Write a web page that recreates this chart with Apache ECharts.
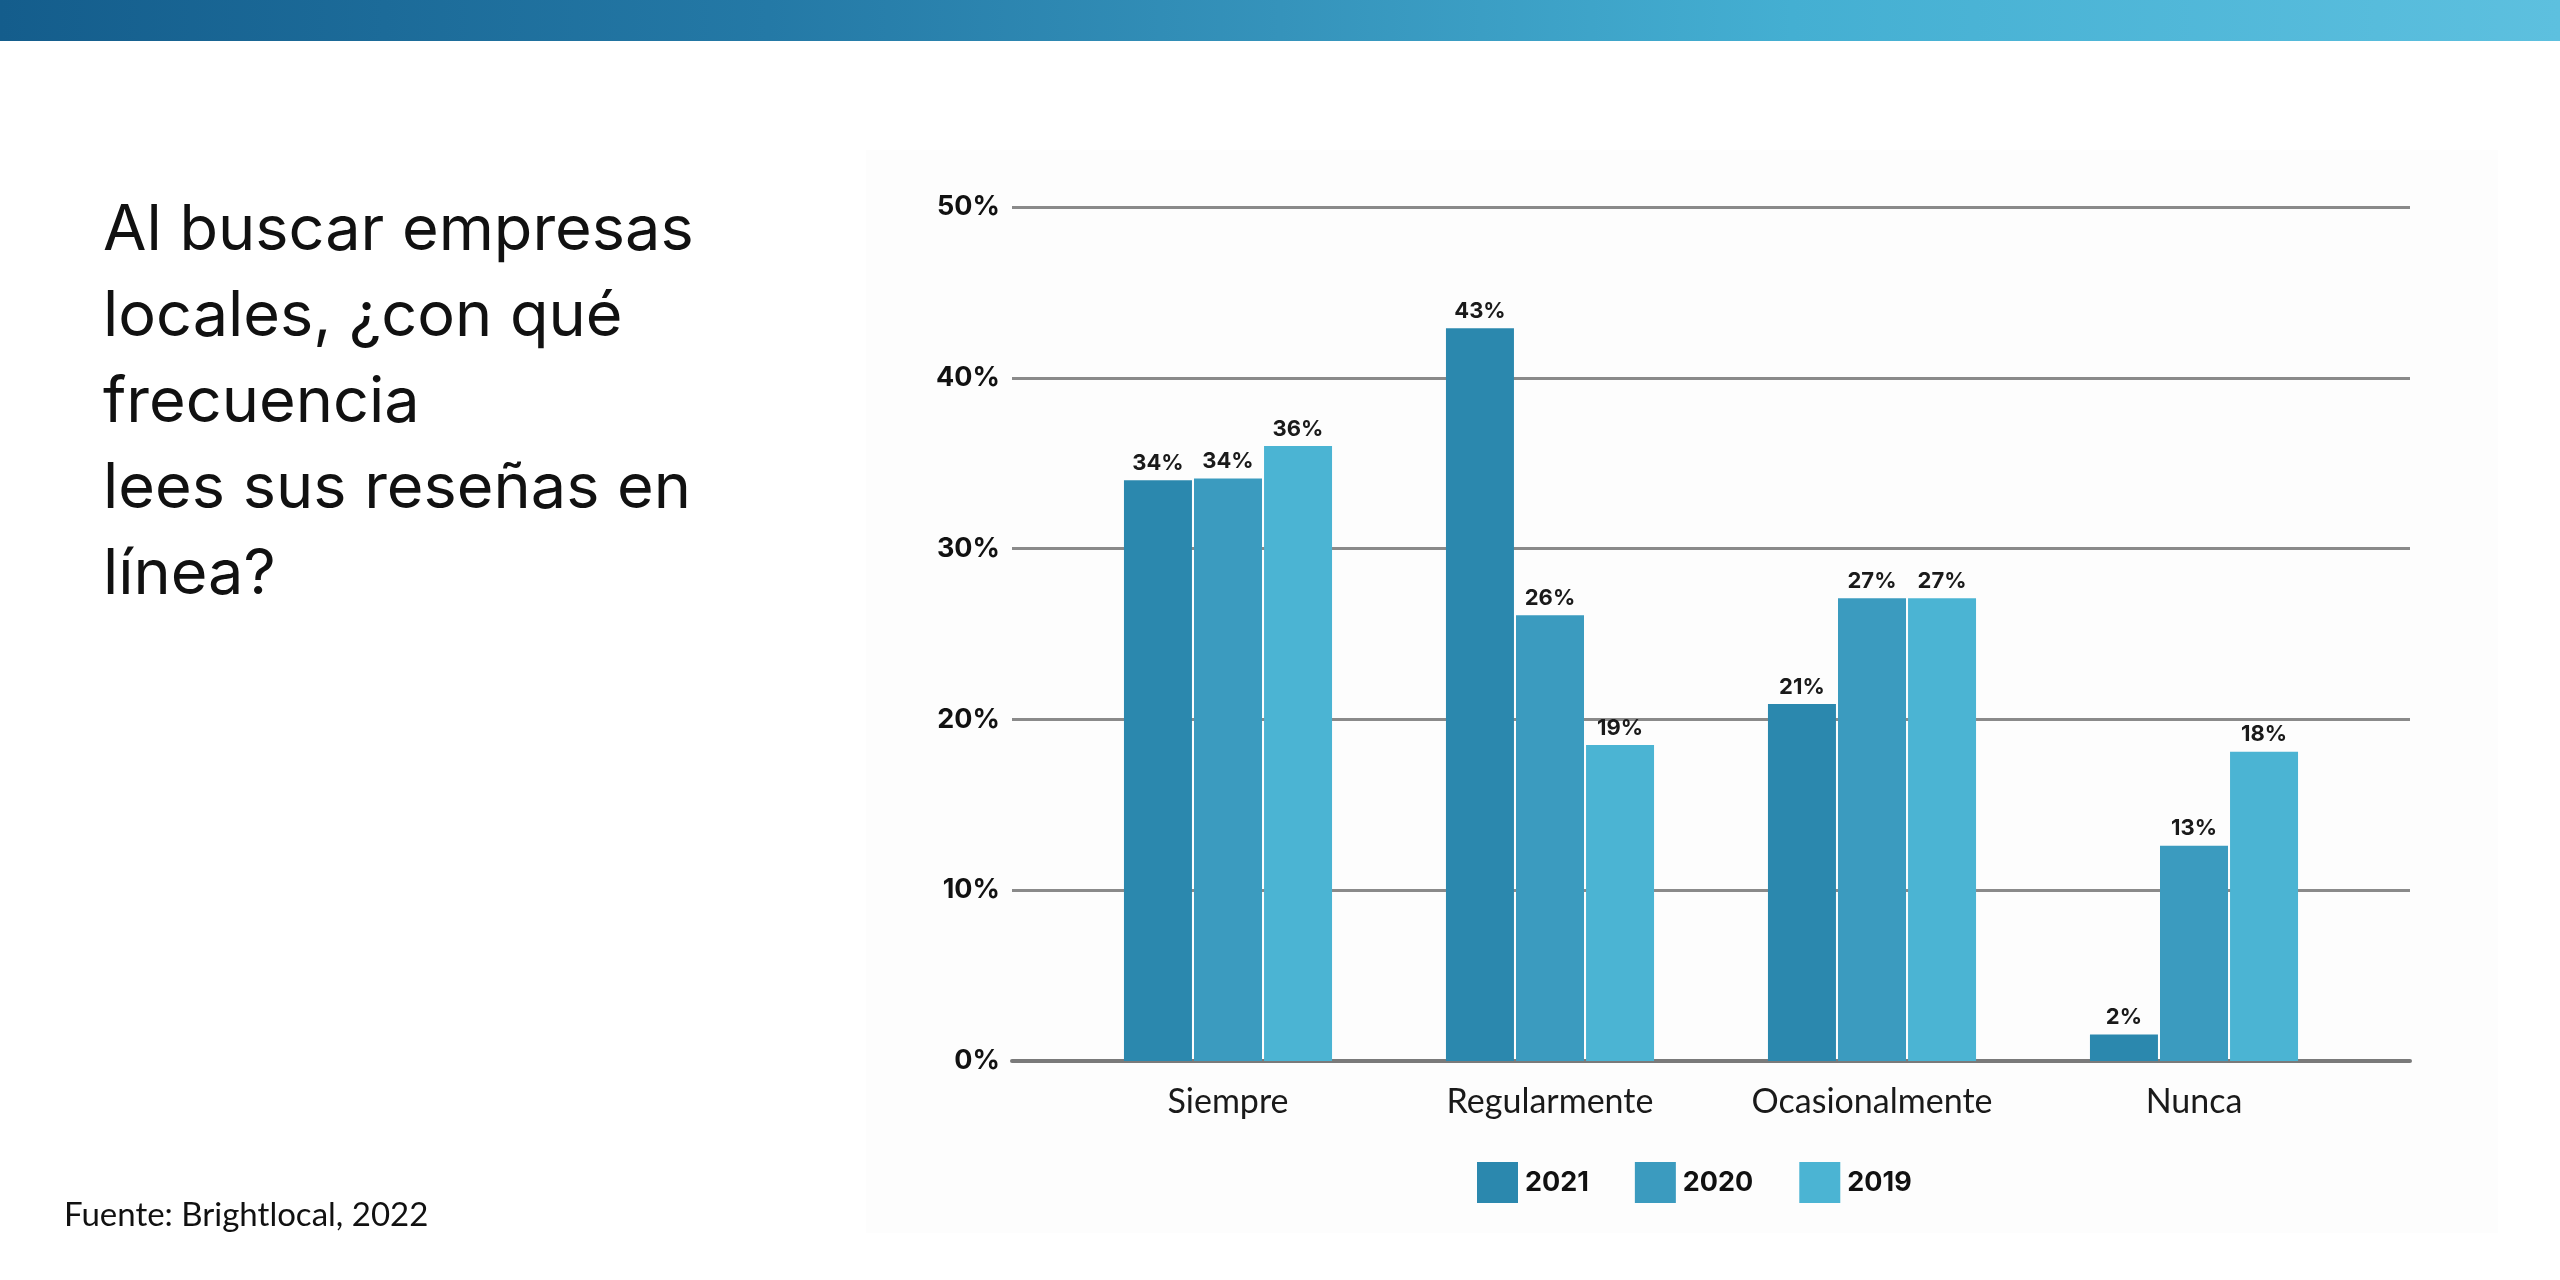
<!DOCTYPE html>
<html>
<head>
<meta charset="utf-8">
<script src="https://cdn.jsdelivr.net/npm/echarts@6/dist/echarts.min.js"></script>
<style>
  html, body { margin: 0; padding: 0; background: #fff; }
  #main { width: 2560px; height: 1280px; }
</style>
</head>
<body>
<div id="main"></div>
<script>
// datos
var categories = ['Siempre', 'Regularmente', 'Ocasionalmente', 'Nunca'];
var years = ['2021', '2020', '2019'];
var values2021 = [34.0, 42.9, 20.9, 1.55];
var values2020 = [34.1, 26.1, 27.1, 12.6];
var values2019 = [36.0, 18.5, 27.1, 18.1];
var colors = ['#2b88ae', '#3b9bbf', '#4bb4d3'];

var chart = echarts.init(document.getElementById('main'));

var labelFont = 'Inter, "Noto Sans", sans-serif';

function barSeries(name, data, color) {
    return {
        name: name,
        type: 'bar',
        xAxisIndex: 1,
        yAxisIndex: 1,
        data: data,
        barWidth: 68,
        barGap: '3%',
        itemStyle: { color: color },
        label: {
            show: true,
            position: 'top',
            distance: 6,
            color: '#1a1a1a',
            fontFamily: labelFont,
            fontWeight: 'bold',
            fontSize: 22,
            formatter: function(p) { return Math.round(p.value) + '%'; }
        },
        emphasis: { disabled: true }
    };
}

var option = {
    backgroundColor: '#ffffff',
    animation: false,
    graphic: [
        {   // barra superior
            type: 'rect',
            shape: { x: 0, y: 0, width: 2560, height: 41 },
            style: {
                fill: new echarts.graphic.LinearGradient(0, 0, 1, 0, [
                    { offset: 0, color: '#145d8c' },
                    { offset: 0.3, color: '#2479a6' },
                    { offset: 0.5, color: '#3593bb' },
                    { offset: 0.7, color: '#44afd2' },
                    { offset: 1, color: '#5dc0df' }
                ])
            },
            z: -1
        },
        {   // panel del grafico, casi blanco
            type: 'rect',
            shape: { x: 866, y: 150, width: 1632, height: 1083 },
            style: { fill: '#fdfdfd' },
            z: -2
        },
        {
            type: 'text',
            left: 103,
            top: 188,
            style: {
                text: 'Al buscar empresas\nlocales, ¿con qué\nfrecuencia\nlees sus reseñas en\nlínea?',
                font: '63px Inter, "Noto Sans", sans-serif',
                lineHeight: 86,
                fill: '#111'
            }
        },
        {
            type: 'text',
            left: 64,
            top: 1199,
            style: {
                text: 'Fuente: Brightlocal, 2022',
                font: '33px Lato, "Open Sans", sans-serif',
                fill: '#111'
            }
        }
    ],
    legend: {
        data: years,
        left: 1472,
        top: 1157,
        itemWidth: 41,
        itemHeight: 41,
        itemGap: 46,
        icon: 'rect',
        textStyle: {
            color: '#111',
            fontFamily: labelFont,
            fontWeight: 'bold',
            fontSize: 27,
            padding: [0, 0, 0, 2]
        }
    },
    grid: [
        // lineas horizontales y etiquetas del eje y
        { left: 1012, right: 150, top: 207, bottom: 219 },
        // barras
        { left: 1067, right: 205, top: 207, bottom: 219 }
    ],
    xAxis: [
        {
            type: 'category',
            gridIndex: 0,
            data: [''],
            axisLine: { show: true, lineStyle: { color: '#7a7a7a', width: 4 } },
            axisTick: { show: false },
            axisLabel: { show: false }
        },
        {
            type: 'category',
            gridIndex: 1,
            data: categories,
            axisLine: { show: false },
            axisTick: { show: false },
            axisLabel: {
                margin: 24,
                color: '#1a1a1a',
                fontFamily: 'Lato, "Open Sans", sans-serif',
                fontSize: 34
            }
        }
    ],
    yAxis: [
        {
            type: 'value',
            gridIndex: 0,
            min: 0,
            max: 50,
            interval: 10,
            axisLine: { show: false },
            axisTick: { show: false },
            axisLabel: {
                margin: 12,
                formatter: '{value}%',
                color: '#111',
                fontFamily: labelFont,
                fontWeight: 'bold',
                fontSize: 27
            },
            splitLine: { lineStyle: { color: '#8a8a8a', width: 3 } }
        },
        {
            type: 'value',
            gridIndex: 1,
            min: 0,
            max: 50,
            interval: 10,
            show: false,
            splitLine: { show: false }
        }
    ],
    series: [
        barSeries(years[0], values2021, colors[0]),
        barSeries(years[1], values2020, colors[1]),
        barSeries(years[2], values2019, colors[2])
    ]
};

chart.setOption(option);
</script>
</body>
</html>
